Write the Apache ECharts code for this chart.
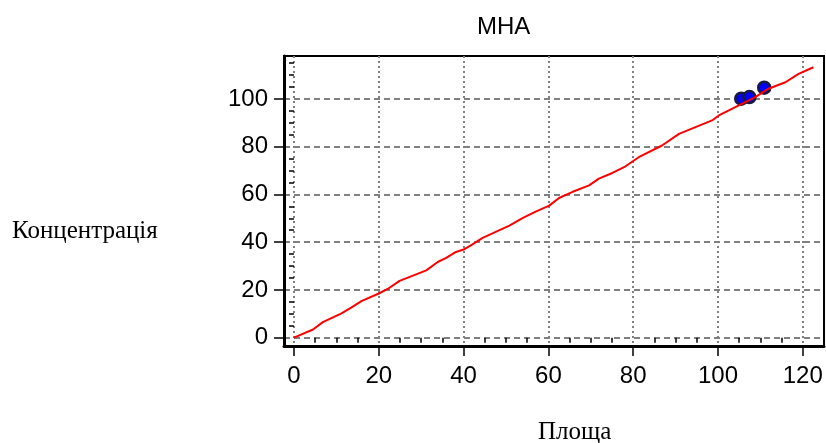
<!DOCTYPE html>
<html>
<head>
<meta charset="utf-8">
<script src="https://cdn.jsdelivr.net/npm/echarts@6/dist/echarts.min.js"></script>
<style>
  html, body { margin: 0; padding: 0; background: #fff; }
  #chart { width: 826px; height: 443px; }
</style>
</head>
<body>
<div id="chart"></div>
<script>
// calibration curve (red line)
const curveX = [0, 4.5, 6.8, 11.1, 13.5, 15.9, 20, 22.1, 24.9, 31.2, 33.9, 35.9, 38.2, 40, 42.1, 44.5, 50.8, 53.9, 57, 60.2, 62.5, 65.6, 69.6, 71.9, 75.1, 78.2, 81.3, 86.8, 90.8, 94.7, 98.6, 100.2, 104.9, 108.8, 111.9, 115.9, 119, 122.5];
const curveY = [0, 3.4, 6.5, 10.1, 12.6, 15.3, 18.5, 20.4, 23.8, 28.2, 31.7, 33.4, 35.9, 36.9, 39.1, 41.8, 46.9, 50.1, 52.8, 55.3, 58.5, 61, 63.8, 66.6, 69, 71.8, 75.6, 80.5, 85.4, 88.2, 91, 93.1, 97.3, 100.8, 104.3, 107, 110.5, 113.3];

// measured points (blue)
const pointX = [105.5, 107.4, 110.9];
const pointY = [100.1, 100.8, 104.7];

const xMajor = [0, 20, 40, 60, 80, 100, 120];
const xMinor = [5, 10, 15, 25, 30, 35, 45, 50, 55, 65, 70, 75, 85, 90, 95, 105, 110, 115];
const yMajor = [0, 20, 40, 60, 80, 100];
const yMinor = [5, 10, 15, 25, 30, 35, 45, 50, 55, 65, 70, 75, 85, 90, 95, 105, 110, 115];

const titleText = 'МНА';
const xName = 'Площа';
const yName = 'Концентрація';

const chart = echarts.init(document.getElementById('chart'));

const labelStyle = {
    color: '#000',
    fontSize: 24,
    fontFamily: 'Liberation Sans, Arial, sans-serif'
};

chart.setOption({
    animation: false,
    backgroundColor: '#fff',
    title: {
        text: titleText,
        left: 472,
        top: 10,
        textStyle: {
            color: '#000',
            fontSize: 24,
            fontWeight: 'normal',
            fontFamily: 'Liberation Sans, Arial, sans-serif'
        }
    },
    grid: {
        left: 284,
        right: 2,
        top: 56,
        bottom: 97,
        show: true,
        borderColor: '#000',
        borderWidth: 2,
        containLabel: false,
        outerBoundsMode: 'none'
    },
    xAxis: [
        {
            type: 'value',
            min: -2.35,
            max: 125,
            axisLine: { show: true, onZero: false, lineStyle: { color: '#000', width: 3 } },
            axisTick: { show: true, customValues: xMajor, length: 10, lineStyle: { color: '#000', width: 1.5 } },
            axisLabel: { show: true, customValues: xMajor, margin: 18, ...labelStyle },
            splitLine: { show: true, lineStyle: { color: '#808080', width: 2, type: [2, 3] } }
        },
        {
            type: 'value',
            min: -2.35,
            max: 125,
            position: 'bottom',
            axisLine: { show: false },
            axisTick: { show: true, customValues: xMinor, length: 5, lineStyle: { color: '#000', width: 1.5 } },
            axisLabel: { show: false },
            splitLine: { show: false }
        }
    ],
    yAxis: [
        {
            type: 'value',
            min: -3.5,
            max: 118,
            axisLine: { show: true, onZero: false, lineStyle: { color: '#000', width: 3 } },
            axisTick: { show: true, customValues: yMajor, length: 10, lineStyle: { color: '#000', width: 1.5 } },
            axisLabel: { show: true, customValues: yMajor, margin: 16, ...labelStyle },
            splitLine: { show: true, lineStyle: { color: '#808080', width: 2, type: [6, 4] } }
        },
        {
            type: 'value',
            min: -3.5,
            max: 118,
            position: 'left',
            axisLine: { show: false },
            axisTick: { show: true, customValues: yMinor, length: 5, lineStyle: { color: '#000', width: 1.5 } },
            axisLabel: { show: false },
            splitLine: { show: false }
        }
    ],
    graphic: [
        {
            type: 'text',
            left: 12,
            top: 219,
            style: { text: yName, fill: '#000', font: '25px "Liberation Serif", "Times New Roman", serif' }
        },
        {
            type: 'text',
            left: 538,
            top: 420,
            style: { text: xName, fill: '#000', font: '25px "Liberation Serif", "Times New Roman", serif' }
        }
    ],
    series: [
        {
            type: 'line',
            xAxisIndex: 0,
            yAxisIndex: 0,
            showSymbol: false,
            data: curveX.map((x, i) => [x, curveY[i]]),
            lineStyle: { color: '#ff0000', width: 2 },
            z: 3
        },
        {
            type: 'scatter',
            xAxisIndex: 0,
            yAxisIndex: 0,
            symbolSize: 12,
            data: pointX.map((x, i) => [x, pointY[i]]),
            itemStyle: { color: '#0000ff', borderColor: '#1a1a40', borderWidth: 2.5, opacity: 1 },
            z: 2
        }
    ]
});
</script>
</body>
</html>
